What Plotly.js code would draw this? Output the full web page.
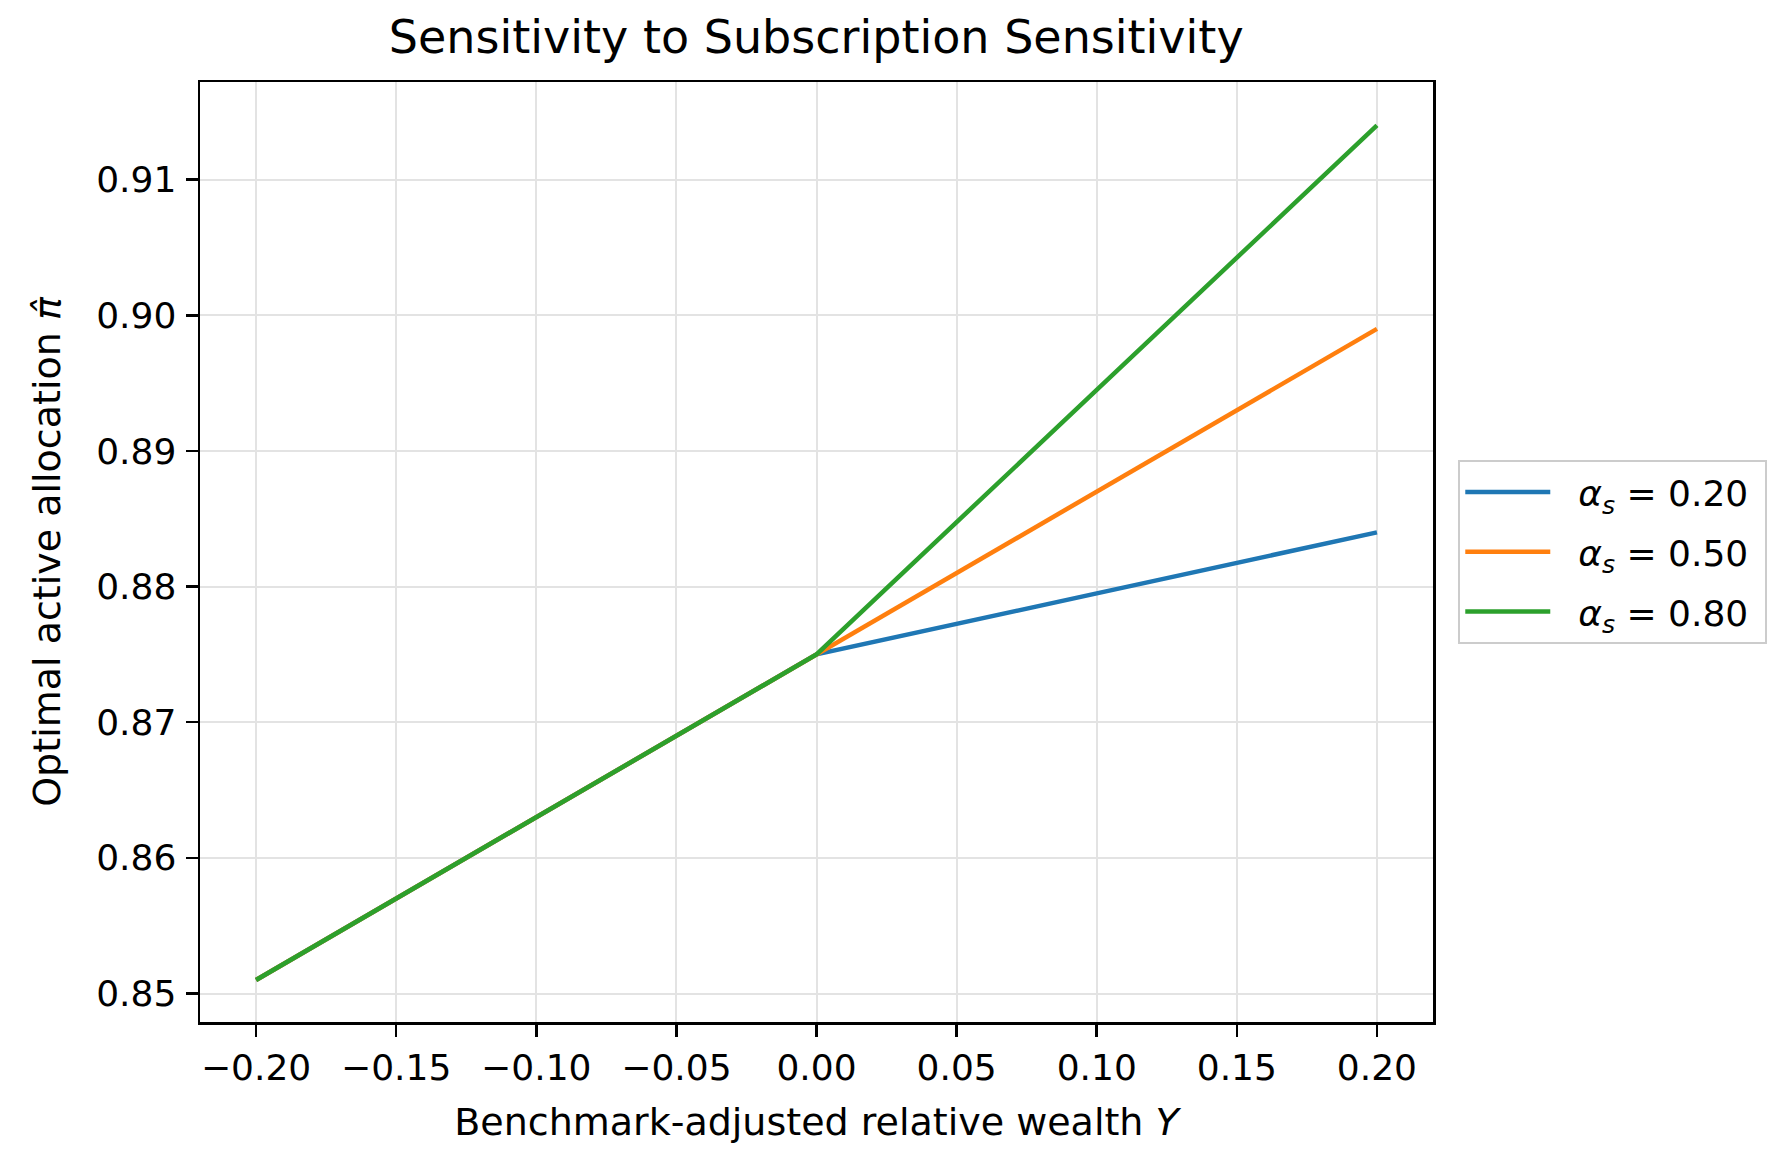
<!DOCTYPE html>
<html>
<head>
<meta charset="utf-8">
<script src="https://cdn.plot.ly/plotly-3.0.1.min.js"></script>
<style>
  html, body { margin: 0; padding: 0; background: #fff; }
  #graphDiv { width: 1788px; height: 1163px; }
</style>
</head>
<body>
<div id="graphDiv"></div>
<script>
// benchmark-adjusted relative wealth Y
var wealthY = [-0.20, -0.10, 0.00, 0.10, 0.20];

// optimal active allocation for each subscription sensitivity
var alphaLabels = ['0.20', '0.50', '0.80'];
var allocLow  = [0.851, 0.863, 0.875, 0.8795, 0.884];
var allocMid  = [0.851, 0.863, 0.875, 0.887, 0.899];
var allocHigh = [0.851, 0.863, 0.875, 0.8945, 0.914];

var lineColors = ['#1f77b4', '#ff7f0e', '#2ca02c'];

var xTicks = [-0.20, -0.15, -0.10, -0.05, 0.00, 0.05, 0.10, 0.15, 0.20];
var yTicks = [0.85, 0.86, 0.87, 0.88, 0.89, 0.90, 0.91];

function initGraph()
{
  var series = [allocLow, allocMid, allocHigh];
  var data = [];
  for (var i = 0; i < series.length; i++) {
    data.push({
      x: wealthY,
      y: series[i],
      mode: 'lines',
      type: 'scatter',
      name: '\u00a0\u00a0<i>α<sub>s</sub></i> = ' + alphaLabels[i] + '\u00a0',
      legendgroup: 'g' + i,
      line: {color: lineColors[i], width: 4.5}
    });
  }

  var axisFont = {family: 'DejaVu Sans', size: 36, color: '#000'};

  var layout = {
    width: 1788,
    height: 1163,
    margin: {l: 200, r: 355, t: 82, b: 141},
    paper_bgcolor: '#fff',
    plot_bgcolor: '#fff',
    font: {family: 'DejaVu Sans', color: '#000'},
    title: {
      text: 'Sensitivity to Subscription Sensitivity',
      font: {family: 'DejaVu Sans', size: 46, color: '#000'},
      x: 0.4565,
      xanchor: 'center',
      yref: 'container',
      y: 0.968,
      yanchor: 'middle'
    },
    xaxis: {
      range: [-0.22, 0.22],
      tickvals: xTicks,
      tickformat: '.2f',
      tickfont: axisFont,
      ticks: 'outside',
      ticklen: 12,
      tickwidth: 2.5,
      tickcolor: '#000',
      showline: true,
      linecolor: '#000',
      linewidth: 2.5,
      mirror: true,
      showgrid: true,
      gridcolor: '#e3e3e3',
      gridwidth: 2,
      zeroline: false,
      title: {
        text: 'Benchmark-adjusted relative wealth <i>Y</i>',
        font: {family: 'DejaVu Sans', size: 38, color: '#000'},
        standoff: 22
      }
    },
    yaxis: {
      range: [0.8479, 0.9172],
      tickvals: yTicks,
      tickformat: '.2f',
      tickfont: axisFont,
      ticks: 'outside',
      ticklen: 12,
      tickwidth: 2.5,
      tickcolor: '#000',
      ticklabelstandoff: 2,
      showline: true,
      linecolor: '#000',
      linewidth: 2.5,
      mirror: true,
      showgrid: true,
      gridcolor: '#e3e3e3',
      gridwidth: 2,
      zeroline: false,
      title: {
        text: 'Optimal active allocation <i>π̂</i>',
        font: {family: 'DejaVu Sans', size: 38, color: '#000'},
        standoff: 24
      }
    },
    showlegend: true,
    legend: {
      x: 1.0205,
      xanchor: 'left',
      y: 0.5,
      yanchor: 'middle',
      font: {family: 'DejaVu Sans', size: 36, color: '#000'},
      bgcolor: '#fff',
      bordercolor: '#cccccc',
      borderwidth: 2,
      traceorder: 'grouped',
      tracegroupgap: 10,
      itemwidth: 85
    }
  };

  Plotly.newPlot('graphDiv', data, layout, {staticPlot: true});
}
initGraph();
</script>
</body>
</html>
